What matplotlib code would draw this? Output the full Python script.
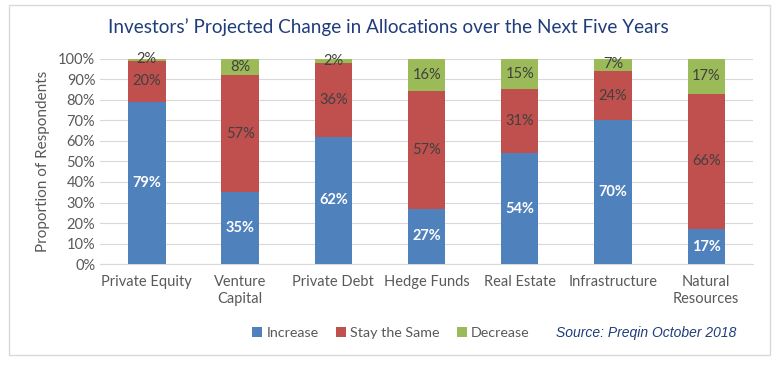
import numpy as np
import matplotlib.pyplot as plt
from matplotlib.patches import Rectangle

categories = ["Private Equity", "Venture\nCapital", "Private Debt", "Hedge Funds",
              "Real Estate", "Infrastructure", "Natural\nResources"]
increase = [79, 35, 62, 27, 54, 70, 17]
stay_same = [20, 57, 36, 57, 31, 24, 66]
decrease = [2, 8, 2, 16, 15, 7, 17]
yticks = [0, 10, 20, 30, 40, 50, 60, 70, 80, 90, 100]

plt.rcParams['font.family'] = ['Lato', 'DejaVu Sans']

blue = '#4F81BD'
red = '#C0504D'
green = '#9BBB59'
grey = '#595959'

fig = plt.figure(figsize=(7.77, 3.66), dpi=100)
# outer frame
fig.patches.append(Rectangle((0.011, 0.03), 0.98, 0.955, transform=fig.transFigure,
                             fill=False, edgecolor='#D9D9D9', linewidth=1))

ax = fig.add_axes([0.129, 0.278, 0.840, 0.562])
x = np.arange(len(categories))
inc = np.array(increase)
st = np.array(stay_same)
dec = np.array(decrease)

ax.bar(x, inc, width=0.4, color=blue, label='Increase', zorder=3)
ax.bar(x, st, width=0.4, bottom=inc, color=red, label='Stay the Same', zorder=3)
ax.bar(x, dec, width=0.4, bottom=inc + st, color=green, label='Decrease', zorder=3)

for i in range(len(categories)):
    ax.text(x[i], inc[i] / 2, f"{increase[i]}%", ha='center', va='center',
            color='white', fontsize=10.5, fontweight='bold', zorder=4)
    ax.text(x[i], inc[i] + st[i] / 2, f"{stay_same[i]}%", ha='center', va='center',
            color='#404040', fontsize=10.5, zorder=4)
    ax.text(x[i], inc[i] + st[i] + dec[i] / 2, f"{decrease[i]}%", ha='center', va='center',
            color='#404040', fontsize=10.5, zorder=4)

ax.set_xlim(-0.5, len(categories) - 0.5)
ax.set_ylim(0, 100)
ax.set_yticks(yticks)
ax.set_yticklabels([f"{t}%" for t in yticks])
ax.set_xticks(x)
ax.set_xticklabels(categories)
ax.tick_params(axis='both', length=0, colors=grey, labelsize=10.5)
ax.tick_params(axis='x', pad=8)
ax.grid(axis='y', color='#D9D9D9', linewidth=0.8, zorder=0)
for s in ['top', 'right', 'left']:
    ax.spines[s].set_visible(False)
ax.spines['bottom'].set_color('#D9D9D9')
ax.set_ylabel('Proportion of Respondents', color=grey, fontsize=11, labelpad=6)

fig.text(0.5, 0.926, "Investors\u2019 Projected Change in Allocations over the Next Five Years",
         ha='center', va='center', color='#1F3D7A', fontsize=13.6)

fig.legend(loc='center', bbox_to_anchor=(0.503, 0.09), ncol=3, frameon=False,
           fontsize=10.3, handlelength=0.7, handleheight=0.7, handletextpad=0.3,
           columnspacing=1.2, labelcolor=grey)

fig.text(0.948, 0.09, "Source: Preqin October 2018", ha='right', va='center',
         color='#1F3D7A', fontsize=10, style='italic', family=['Liberation Sans', 'DejaVu Sans'])

fig.savefig('out.png', dpi=100)
